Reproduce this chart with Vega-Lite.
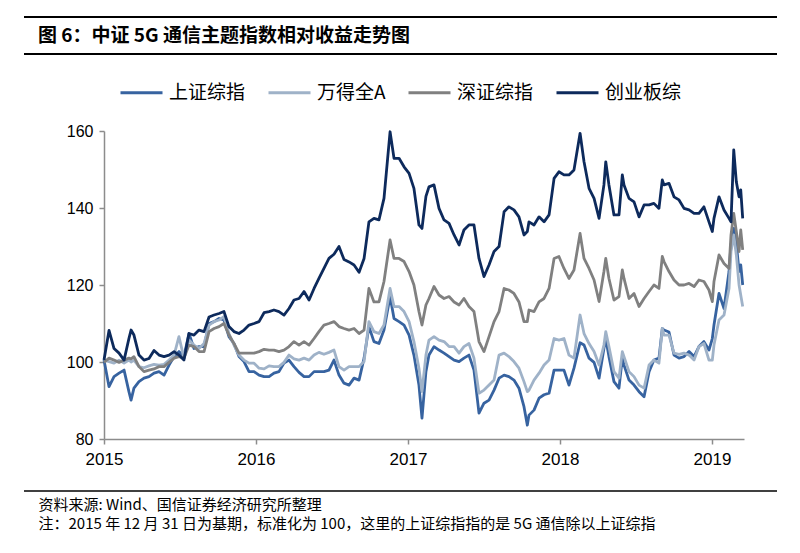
{
"$schema": "https://vega.github.io/schema/vega-lite/v6.json",
"width": 640, "height": 308,
"autosize": {"type": "none"},
"padding": {"left": 104, "top": 131, "right": 56, "bottom": 114},
"background": "white",
"title": {"text": "图 6：中证 5G 通信主题指数相对收益走势图", "anchor": "start", "frame": "group", "dx": -66, "offset": -30, "font": "Noto Sans CJK SC", "fontSize": 19, "fontWeight": "bold", "color": "#000000"},
"config": {"view": {"stroke": null}, "font": "Liberation Sans"},
"layer": [
{"data": {"values": [{}]}, "mark": {"type": "rule", "color": "#000000", "strokeWidth": 1.8}, "encoding": {"x": {"value": -80}, "x2": {"value": 673}, "y": {"value": -114}}},
{"data": {"values": [{}]}, "mark": {"type": "rule", "color": "#000000", "strokeWidth": 1.8}, "encoding": {"x": {"value": -80}, "x2": {"value": 673}, "y": {"value": -77}}},
{"data": {"values": [{}]}, "mark": {"type": "rule", "color": "#000000", "strokeWidth": 1.6}, "encoding": {"x": {"value": -80}, "x2": {"value": 673}, "y": {"value": 360}}},
{"data": {"values": [
{"t":2015.000,"上证综指":100.5,"万得全A":100.5,"深证综指":99.9,"创业板综":100.5},
{"t":2015.033,"上证综指":93.6,"万得全A":100.1,"深证综指":101.0,"创业板综":108.2},
{"t":2015.066,"上证综指":96.2,"万得全A":99.7,"深证综指":100.5,"创业板综":103.5},
{"t":2015.099,"上证综指":97.1,"万得全A":100.5,"深证综指":99.9,"创业板综":102.3},
{"t":2015.132,"上证综指":97.9,"万得全A":99.7,"深证综指":100.5,"创业板综":100.5},
{"t":2015.164,"上证综指":92.3,"万得全A":100.5,"深证综指":101.0,"创业板综":106.1},
{"t":2015.178,"上证综指":90.1,"万得全A":100.0,"深证综指":100.8,"创业板综":108.3},
{"t":2015.197,"上证综指":93.2,"万得全A":100.5,"深证综指":101.4,"创业板综":107.0},
{"t":2015.230,"上证综指":94.9,"万得全A":98.8,"深证综指":98.8,"创业板综":101.8},
{"t":2015.263,"上证综指":95.8,"万得全A":98.5,"深证综指":97.5,"创业板综":100.5},
{"t":2015.296,"上证综指":96.2,"万得全A":99.0,"深证综指":97.9,"创业板综":100.9},
{"t":2015.329,"上证综指":97.1,"万得全A":99.4,"深证综指":98.2,"创业板综":103.0},
{"t":2015.362,"上证综指":97.5,"万得全A":99.2,"深证综指":98.8,"创业板综":101.8},
{"t":2015.395,"上证综指":96.6,"万得全A":99.4,"深证综指":98.8,"创业板综":101.4},
{"t":2015.428,"上证综指":99.2,"万得全A":100.5,"深证综指":99.9,"创业板综":101.8},
{"t":2015.461,"上证综指":101.4,"万得全A":101.8,"深证综指":101.0,"创业板综":102.7},
{"t":2015.493,"上证综指":102.7,"万得全A":106.6,"深证综指":101.4,"创业板综":101.8},
{"t":2015.526,"上证综指":101.4,"万得全A":101.0,"深证综指":101.0,"创业板综":100.5},
{"t":2015.559,"上证综指":107.4,"万得全A":105.7,"深证综指":104.4,"创业板综":107.4},
{"t":2015.592,"上证综指":103.5,"万得全A":104.4,"深证综指":104.0,"创业板综":107.0},
{"t":2015.625,"上证综指":104.0,"万得全A":103.5,"深证综指":102.7,"创业板综":108.3},
{"t":2015.658,"上证综指":104.0,"万得全A":104.8,"深证综指":102.7,"创业板综":107.9},
{"t":2015.691,"上证综指":110.0,"万得全A":109.6,"深证综指":107.9,"创业板综":111.7},
{"t":2015.724,"上证综指":110.5,"万得全A":110.5,"深证综指":108.7,"创业板综":112.2},
{"t":2015.757,"上证综指":111.3,"万得全A":110.9,"深证综指":109.2,"创业板综":112.6},
{"t":2015.789,"上证综指":110.9,"万得全A":111.8,"深证综指":110.0,"创业板综":113.1},
{"t":2015.822,"上证综指":106.6,"万得全A":107.4,"深证综指":107.0,"创业板综":109.2},
{"t":2015.855,"上证综指":104.8,"万得全A":104.4,"深证综指":104.8,"创业板综":107.9},
{"t":2015.888,"上证综指":101.4,"万得全A":101.8,"深证综指":102.3,"创业板综":107.4},
{"t":2015.921,"上证综指":100.1,"万得全A":100.5,"深证综指":102.3,"创业板综":108.3},
{"t":2015.954,"上证综指":97.5,"万得全A":99.7,"深证综指":102.3,"创业板综":109.6},
{"t":2015.987,"上证综指":97.5,"万得全A":99.7,"深证综指":102.3,"创业板综":110.0},
{"t":2016.020,"上证综指":96.6,"万得全A":98.4,"深证综指":102.7,"创业板综":110.5},
{"t":2016.053,"上证综指":96.2,"万得全A":98.2,"深证综指":103.3,"创业板综":112.8},
{"t":2016.086,"上证综指":96.2,"万得全A":99.0,"深证综指":103.1,"创业板综":113.1},
{"t":2016.118,"上证综指":97.1,"万得全A":98.8,"深证综指":103.1,"创业板综":113.5},
{"t":2016.151,"上证综指":97.5,"万得全A":98.8,"深证综指":102.7,"创业板综":113.1},
{"t":2016.184,"上证综指":99.7,"万得全A":99.9,"深证综指":103.1,"创业板综":112.2},
{"t":2016.217,"上证综指":100.5,"万得全A":101.8,"深证综指":104.0,"创业板综":113.9},
{"t":2016.250,"上证综指":98.8,"万得全A":100.8,"深证综指":105.3,"创业板综":116.1},
{"t":2016.283,"上证综指":97.3,"万得全A":100.5,"深证综指":104.4,"创业板综":116.5},
{"t":2016.316,"上证综指":96.2,"万得全A":101.0,"深证综指":105.3,"创业板综":118.3},
{"t":2016.349,"上证综指":96.2,"万得全A":100.5,"深证综指":104.4,"创业板综":116.1},
{"t":2016.382,"上证综指":97.5,"万得全A":101.8,"深证综指":106.1,"创业板综":119.1},
{"t":2016.414,"上证综指":97.5,"万得全A":102.5,"深证综指":107.9,"创业板综":121.7},
{"t":2016.447,"上证综指":97.5,"万得全A":102.0,"深证综指":109.6,"创业板综":124.3},
{"t":2016.480,"上证综指":97.9,"万得全A":102.5,"深证综指":110.0,"创业板综":126.9},
{"t":2016.513,"上证综指":100.5,"万得全A":103.1,"深证综指":110.5,"创业板综":128.0},
{"t":2016.546,"上证综指":96.6,"万得全A":98.8,"深证综指":109.2,"创业板综":130.0},
{"t":2016.579,"上证综指":94.5,"万得全A":97.9,"深证综指":108.7,"创业板综":126.6},
{"t":2016.612,"上证综指":94.0,"万得全A":98.8,"深证综指":108.3,"创业板综":126.0},
{"t":2016.645,"上证综指":95.8,"万得全A":98.8,"深证综指":108.7,"创业板综":125.2},
{"t":2016.678,"上证综指":95.3,"万得全A":98.8,"深证综指":107.4,"创业板综":123.3},
{"t":2016.711,"上证综指":101.0,"万得全A":100.1,"深证综指":108.3,"创业板综":126.9},
{"t":2016.743,"上证综指":109.2,"万得全A":110.5,"深证综指":119.1,"创业板综":136.4},
{"t":2016.776,"上证综指":105.3,"万得全A":107.9,"深证综指":115.6,"创业板综":137.3},
{"t":2016.809,"上证综指":104.8,"万得全A":107.4,"深证综指":115.6,"创业板综":136.9},
{"t":2016.842,"上证综指":108.3,"万得全A":109.6,"深证综指":120.9,"创业板综":142.5},
{"t":2016.882,"上证综指":117.0,"万得全A":119.1,"深证综指":131.7,"创业板综":159.8},
{"t":2016.908,"上证综指":111.3,"万得全A":114.4,"深证综指":126.9,"创业板综":152.9},
{"t":2016.941,"上证综指":110.5,"万得全A":114.4,"深证综指":126.9,"创业板综":152.9},
{"t":2016.974,"上证综指":109.6,"万得全A":113.1,"深证综指":126.1,"创业板综":150.7},
{"t":2017.007,"上证综指":107.0,"万得全A":110.5,"深证综指":123.5,"创业板综":149.0},
{"t":2017.039,"上证综指":101.8,"万得全A":105.3,"深证综指":120.0,"创业板综":145.1},
{"t":2017.072,"上证综指":94.0,"万得全A":98.4,"深证综指":113.1,"创业板综":135.6},
{"t":2017.092,"上证综指":85.4,"万得全A":92.3,"深证综指":109.6,"创业板综":134.7},
{"t":2017.118,"上证综指":97.5,"万得全A":101.8,"深证综指":114.8,"创业板综":143.0},
{"t":2017.138,"上证综指":101.8,"万得全A":105.7,"深证综指":116.5,"创业板综":145.5},
{"t":2017.171,"上证综指":104.0,"万得全A":106.6,"深证综指":119.6,"创业板综":146.0},
{"t":2017.204,"上证综指":103.1,"万得全A":105.7,"深证综指":117.4,"创业板综":139.9},
{"t":2017.237,"上证综指":102.3,"万得全A":105.3,"深证综指":116.5,"创业板综":136.9},
{"t":2017.270,"上证综指":101.4,"万得全A":104.0,"深证综指":117.0,"创业板综":136.0},
{"t":2017.303,"上证综指":100.5,"万得全A":104.0,"深证综指":115.6,"创业板综":133.0},
{"t":2017.336,"上证综指":100.1,"万得全A":102.3,"深证综指":114.8,"创业板综":130.4},
{"t":2017.368,"上证综指":101.0,"万得全A":104.0,"深证综指":116.5,"创业板综":134.3},
{"t":2017.401,"上证综指":101.8,"万得全A":104.8,"深证综指":114.4,"创业板综":135.6},
{"t":2017.434,"上证综指":97.9,"万得全A":101.0,"深证综指":113.1,"创业板综":135.6},
{"t":2017.467,"上证综指":86.7,"万得全A":91.9,"深证综指":105.3,"创业板综":126.9},
{"t":2017.500,"上证综指":89.3,"万得全A":92.7,"深证综指":102.7,"创业板综":122.2},
{"t":2017.533,"上证综指":90.1,"万得全A":94.0,"深证综指":106.6,"创业板综":125.2},
{"t":2017.566,"上证综指":92.7,"万得全A":95.3,"深证综指":110.5,"创业板综":128.7},
{"t":2017.599,"上证综指":95.8,"万得全A":101.8,"深证综指":113.1,"创业板综":130.0},
{"t":2017.632,"上证综指":96.6,"万得全A":102.3,"深证综指":119.1,"创业板综":139.0},
{"t":2017.664,"上证综指":96.2,"万得全A":101.4,"深证综指":118.7,"创业板综":140.3},
{"t":2017.697,"上证综指":95.3,"万得全A":100.1,"深证综指":117.8,"创业板综":139.5},
{"t":2017.730,"上证综指":93.2,"万得全A":98.4,"深证综指":115.6,"创业板综":137.7},
{"t":2017.763,"上证综指":88.4,"万得全A":94.9,"深证综指":110.5,"创业板综":133.0},
{"t":2017.785,"上证综指":83.6,"万得全A":92.3,"深证综指":110.5,"创业板综":133.9},
{"t":2017.796,"上证综指":86.2,"万得全A":92.7,"深证综指":113.5,"创业板综":136.4},
{"t":2017.829,"上证综指":87.5,"万得全A":95.3,"深证综指":113.1,"创业板综":135.6},
{"t":2017.862,"上证综指":90.6,"万得全A":97.1,"深证综指":115.6,"创业板综":137.7},
{"t":2017.895,"上证综指":91.5,"万得全A":99.2,"深证综指":116.5,"创业板综":136.4},
{"t":2017.928,"上证综指":91.9,"万得全A":100.5,"深证综指":119.1,"创业板综":138.2},
{"t":2017.961,"上证综指":97.9,"万得全A":106.1,"深证综指":126.9,"创业板综":147.7},
{"t":2017.993,"上证综指":97.9,"万得全A":105.7,"深证综指":127.4,"创业板综":149.4},
{"t":2018.026,"上证综指":97.9,"万得全A":106.1,"深证综指":124.3,"创业板综":148.6},
{"t":2018.059,"上证综指":94.0,"万得全A":101.8,"深证综指":121.7,"创业板综":148.6},
{"t":2018.092,"上证综指":98.4,"万得全A":101.0,"深证综指":123.9,"创业板综":149.9},
{"t":2018.132,"上证综指":105.0,"万得全A":112.2,"深证综指":133.4,"创业板综":159.4},
{"t":2018.158,"上证综指":104.4,"万得全A":107.4,"深证综指":126.9,"创业板综":152.0},
{"t":2018.191,"上证综指":101.0,"万得全A":104.8,"深证综指":124.3,"创业板综":145.1},
{"t":2018.224,"上证综指":99.9,"万得全A":102.7,"深证综指":121.3,"创业板综":142.5},
{"t":2018.257,"上证综指":95.8,"万得全A":99.2,"深证综指":115.7,"创业板综":137.3},
{"t":2018.289,"上证综指":103.5,"万得全A":104.4,"深证综指":123.5,"创业板综":146.0},
{"t":2018.301,"上证综指":106.1,"万得全A":107.9,"深证综指":126.9,"创业板综":152.0},
{"t":2018.322,"上证综指":101.4,"万得全A":104.0,"深证综指":121.7,"创业板综":146.0},
{"t":2018.355,"上证综指":94.9,"万得全A":97.5,"深证综指":116.1,"创业板综":138.2},
{"t":2018.388,"上证综指":93.2,"万得全A":95.8,"深证综指":117.0,"创业板综":138.2},
{"t":2018.410,"上证综指":101.0,"万得全A":102.7,"深证综指":123.9,"创业板综":148.6},
{"t":2018.421,"上证综指":99.2,"万得全A":101.4,"深证综指":121.7,"创业板综":146.0},
{"t":2018.454,"上证综指":95.3,"万得全A":97.5,"深证综指":116.5,"创业板综":142.5},
{"t":2018.487,"上证综指":94.0,"万得全A":96.2,"深证综指":117.8,"创业板综":141.6},
{"t":2018.520,"上证综指":92.3,"万得全A":94.0,"深证综指":114.4,"创业板综":137.7},
{"t":2018.553,"上证综指":91.0,"万得全A":93.2,"深证综指":116.5,"创业板综":140.8},
{"t":2018.586,"上证综指":97.5,"万得全A":99.2,"深证综指":118.3,"创业板综":140.8},
{"t":2018.618,"上证综指":100.5,"万得全A":100.5,"深证综指":120.0,"创业板综":141.2},
{"t":2018.651,"上证综指":101.0,"万得全A":99.7,"深证综指":119.1,"创业板综":139.9},
{"t":2018.673,"上证综指":108.7,"万得全A":108.7,"深证综指":127.4,"创业板综":147.3},
{"t":2018.684,"上证综指":108.3,"万得全A":107.0,"深证综指":126.1,"创业板综":146.0},
{"t":2018.717,"上证综指":107.8,"万得全A":107.0,"深证综指":123.5,"创业板综":146.4},
{"t":2018.750,"上证综指":101.8,"万得全A":102.3,"深证综指":121.3,"创业板综":142.9},
{"t":2018.783,"上证综指":101.0,"万得全A":102.0,"深证综指":120.0,"创业板综":142.1},
{"t":2018.816,"上证综指":101.4,"万得全A":102.3,"深证综指":120.0,"创业板综":139.9},
{"t":2018.849,"上证综指":102.7,"万得全A":101.8,"深证综指":120.4,"创业板综":139.5},
{"t":2018.882,"上证综指":101.4,"万得全A":100.5,"深证综指":119.6,"创业板综":138.6},
{"t":2018.914,"上证综指":104.0,"万得全A":104.0,"深证综指":121.3,"创业板综":138.6},
{"t":2018.947,"上证综指":105.3,"万得全A":104.8,"深证综指":120.9,"创业板综":140.3},
{"t":2018.980,"上证综指":103.1,"万得全A":100.5,"深证综指":118.7,"创业板综":136.4},
{"t":2019.002,"上证综指":106.1,"万得全A":100.5,"深证综指":115.7,"创业板综":133.9},
{"t":2019.013,"上证综指":109.6,"万得全A":104.4,"深证综指":120.9,"创业板综":137.3},
{"t":2019.046,"上证综指":117.8,"万得全A":110.9,"深证综指":127.8,"创业板综":142.9},
{"t":2019.079,"上证综指":113.9,"万得全A":112.2,"深证综指":125.6,"创业板综":139.5},
{"t":2019.112,"上证综指":123.5,"万得全A":119.1,"深证综指":124.3,"创业板综":137.3},
{"t":2019.125,"上证综指":130.4,"万得全A":128.7,"深证综指":133.0,"创业板综":136.4},
{"t":2019.143,"上证综指":134.7,"万得全A":133.0,"深证综指":138.6,"创业板综":155.1},
{"t":2019.160,"上证综指":130.8,"万得全A":127.8,"深证综指":133.9,"创业板综":146.8},
{"t":2019.178,"上证综指":123.5,"万得全A":120.0,"深证综指":128.7,"创业板综":142.9},
{"t":2019.189,"上证综指":125.2,"万得全A":117.4,"深证综指":134.3,"创业板综":144.7},
{"t":2019.202,"上证综指":120.0,"万得全A":114.4,"深证综指":129.1,"创业板综":137.3}
]},
"transform": [{"fold": ["上证综指", "万得全A", "深证综指", "创业板综"], "as": ["series", "value"]}],
"mark": {"type": "line", "strokeWidth": 2.8, "strokeJoin": "round"},
"encoding": {
"x": {"field": "t", "type": "quantitative", "scale": {"domain": [2015, 2019.2105], "nice": false, "zero": false},
 "axis": {"values": [2015, 2016, 2017, 2018, 2019], "format": "d", "grid": false, "labelFontSize": 17, "labelFont": "Liberation Sans", "labelColor": "#000000", "labelPadding": 7, "tickSize": 5, "tickColor": "#8c8c8c", "domainColor": "#8c8c8c", "domainWidth": 1.5, "tickWidth": 1.5, "labelFlush": false,
 "title": ["资料来源: Wind、国信证券经济研究所整理", "注：2015 年 12 月 31 日为基期，标准化为 100，这里的上证综指指的是 5G 通信除以上证综指"],
 "titleFont": "Noto Sans CJK SC", "titleFontSize": 15, "titleFontWeight": "normal", "titleColor": "#000000", "titleAlign": "left", "titleAnchor": "start", "titleBaseline": "top", "titleX": -66, "titleY": 58, "titleLineHeight": 19}},
"y": {"field": "value", "type": "quantitative", "scale": {"domain": [80, 160], "nice": false, "zero": false},
 "axis": {"values": [80, 100, 120, 140, 160], "grid": false, "title": null, "labelFontSize": 16, "labelFont": "Liberation Sans", "labelColor": "#000000", "labelPadding": 6, "tickSize": 5, "tickColor": "#8c8c8c", "domainColor": "#8c8c8c", "domainWidth": 1.5, "tickWidth": 1.5}},
"color": {"field": "series", "type": "nominal", "scale": {"domain": ["上证综指", "万得全A", "深证综指", "创业板综"], "range": ["#3763a0", "#9fb2c8", "#808080", "#0d2a5c"]},
 "legend": {"orient": "none", "legendX": 15, "legendY": -61, "direction": "horizontal", "title": null, "symbolType": "stroke", "symbolSize": 1764, "symbolStrokeWidth": 3, "labelFont": "Noto Sans CJK SC", "labelFontSize": 19, "labelColor": "#000000", "labelOffset": 5, "columnPadding": 16, "labelLimit": 200}}
}}
]
}
